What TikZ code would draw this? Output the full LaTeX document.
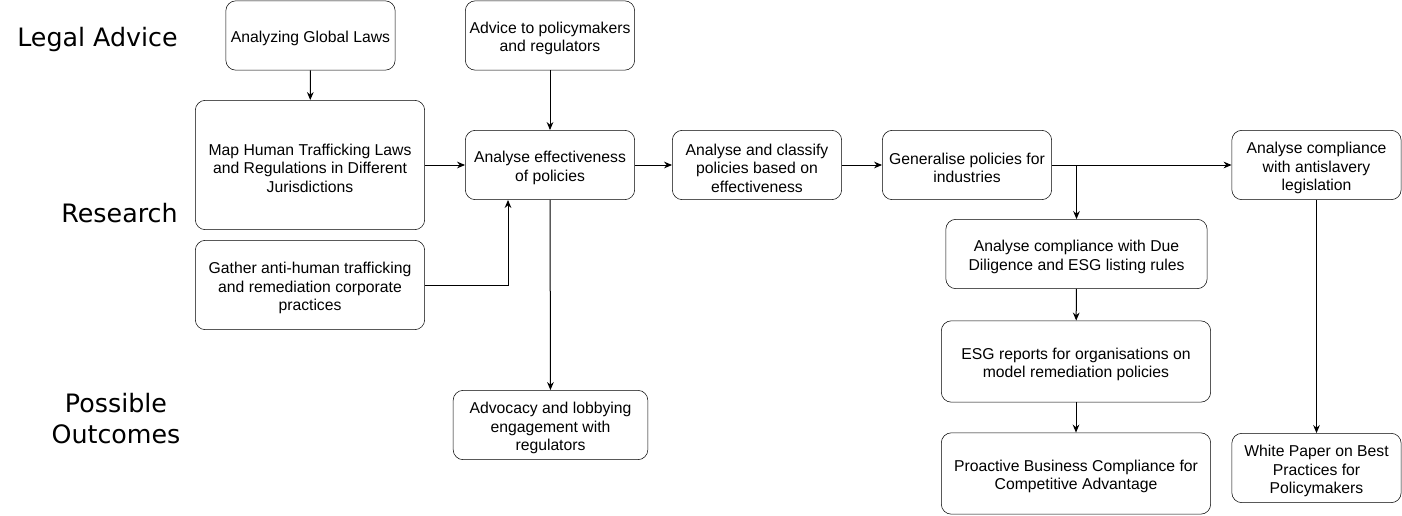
\documentclass[tikz,border=0pt]{standalone}
\usepackage{fontspec}
\setmainfont{Liberation Sans}
\newfontfamily\lblfont{DejaVu Sans}
\usetikzlibrary{arrows.meta}
\tikzset{
  box/.style={draw, rounded corners=7.5pt},
  boxtext/.style={align=center, inner sep=1pt, yshift=-2.25pt,
    font=\fontsize{11.8}{13.9}\selectfont},
  lbl/.style={align=center, font=\lblfont\fontsize{19}{23}\selectfont},
  conn/.style={-{Stealth[length=6pt,width=5pt]}, line width=0.75pt}
}
\newcommand {\stepbox}[5] {\node[box, minimum width=#3, minimum height=#4,
                             label={[boxtext]center:{#5}}] (#1) at (#2) {};}

\begin{document}
\begin{tikzpicture}[x=0.75pt, y=-0.75pt]
        \useasboundingbox (0,0) rectangle (1402,515);
        % row labels
        \node[lbl] (legal) at (97.5,39.5) {Legal Advice};
        \node[lbl] (research) at (119.5,213) {Research};
        \node[lbl] (outcomes) at (116,418.5) {Possible\\Outcomes};
        % boxes
        \stepbox{global}{310.5,35.5}{127pt}{52pt}{Analyzing Global Laws}
        \stepbox{map}{310,165}{172pt}{97pt}{Map Human Trafficking Laws\\and Regulations in Different\\Jurisdictions}
        \stepbox{gather}{310,285}{172pt}{67pt}{Gather anti-human trafficking\\and remediation corporate\\practices}
        \stepbox{advice}{550,35.5}{127pt}{52pt}{Advice to policymakers\\and regulators}
        \stepbox{effect}{550,165}{127pt}{52pt}{Analyse effectiveness\\of policies}
        \stepbox{classify}{757,165}{127pt}{52pt}{Analyse and classify\\policies based on\\effectiveness}
        \stepbox{general}{967,165}{127pt}{52pt}{Generalise policies for\\industries}
        \stepbox{slavery}{1316.5,165}{127pt}{52pt}{Analyse compliance\\with antislavery\\legislation}
        \stepbox{esg}{1076.5,254}{196pt}{52pt}{Analyse compliance with Due\\Diligence and ESG listing rules}
        \stepbox{reports}{1076,361.5}{202pt}{61pt}{ESG reports for organisations on\\model remediation policies}
        \stepbox{proactive}{1076,473.5}{202pt}{61pt}{Proactive Business Compliance for\\Competitive Advantage}
        \stepbox{paper}{1316.5,468}{127pt}{52pt}{White Paper on Best\\Practices for\\Policymakers}
        \stepbox{lobby}{550.5,425}{146pt}{52pt}{Advocacy and lobbying\\engagement with\\regulators}
        % connectors
        \draw[conn] (global) -- (map);
        \draw[conn] (advice) -- (effect);
        \draw[conn] (map.east) -- (effect.west |- map.east);
        \draw[conn] (gather.east) -| (effect.south -| 508,0);
        \draw[conn] (effect) -- (lobby);
        \draw[conn] (effect) -- (classify);
        \draw[conn] (classify) -- (general);
        \draw[conn] (general) -- (slavery);
        \draw[conn] (general.east -| esg.north) -- (esg.north);
        \draw[conn] (esg) -- (reports);
        \draw[conn] (reports) -- (proactive);
        \draw[conn] (slavery) -- (paper);
    \end{tikzpicture}
\end{document}
